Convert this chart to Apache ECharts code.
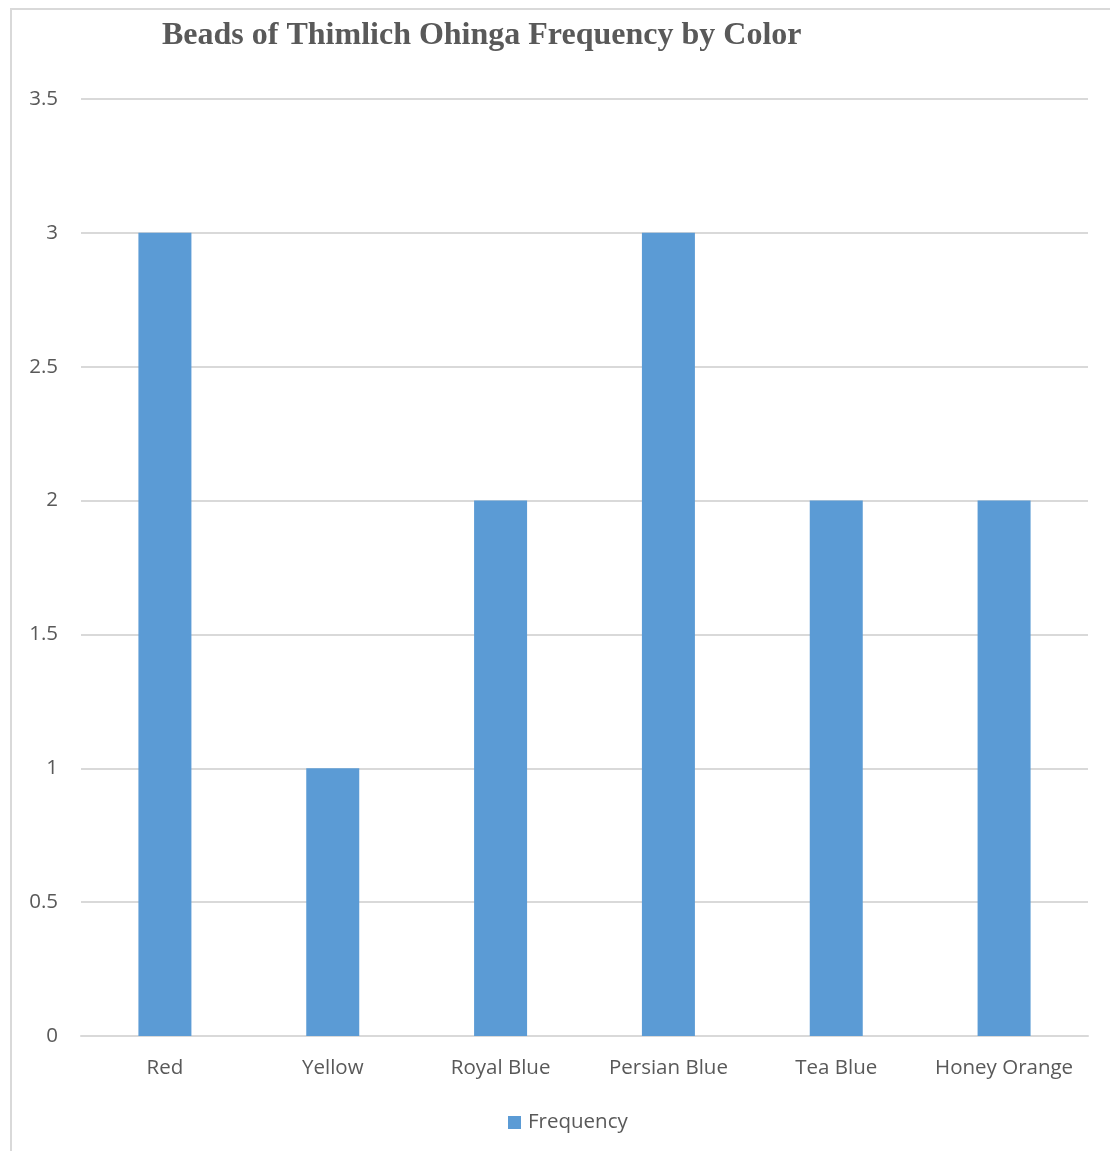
<!DOCTYPE html>
<html>
<head>
<meta charset="utf-8">
<script src="https://cdn.jsdelivr.net/npm/echarts@6/dist/echarts.min.js"></script>
<style>
  html, body { margin: 0; padding: 0; background: #fff; }
  #frame { position: absolute; left: 10px; top: 8px; width: 1200px; height: 1200px; border-left: 2px solid #d9d9d9; border-top: 2px solid #d9d9d9; box-sizing: border-box; }
  #chart { position: absolute; left: 0; top: 0; width: 1110px; height: 1151px; }
</style>
</head>
<body>
<div id="frame"></div>
<div id="chart"></div>
<script>
// Bead colours and how many of each were counted
const categories = ['Red', 'Yellow', 'Royal Blue', 'Persian Blue', 'Tea Blue', 'Honey Orange'];
const frequency = [3, 1, 2, 3, 2, 2];
const seriesName = 'Frequency';
const chartTitle = 'Beads of Thimlich Ohinga Frequency by Color';

const textColor = '#595959';
const gridColor = '#d9d9d9';
const barColor = '#5b9bd5';
const sans = '"Open Sans", "Noto Sans", sans-serif';

const chart = echarts.init(document.getElementById('chart'), null, { renderer: 'canvas' });
chart.setOption({
  backgroundColor: 'transparent',
  animation: false,
  title: {
    text: chartTitle,
    left: 157,
    top: 15,
    textStyle: {
      fontFamily: '"Liberation Serif", "DejaVu Serif", serif',
      fontWeight: 'bold',
      fontSize: 32,
      color: textColor
    }
  },
  legend: {
    data: [seriesName],
    top: 1107,
    left: 503,
    itemWidth: 13,
    itemHeight: 13,
    icon: 'rect',
    textStyle: { fontFamily: sans, fontSize: 20.5, color: textColor, padding: [0, 0, 0, 2] }
  },
  grid: { left: 81, right: 22, top: 99, bottom: 115, containLabel: false },
  xAxis: {
    type: 'category',
    data: categories,
    axisLine: { show: true, lineStyle: { color: gridColor, width: 2 } },
    axisTick: { show: false },
    axisLabel: { interval: 0, fontFamily: sans, fontSize: 20.5, color: textColor, margin: 22 }
  },
  yAxis: {
    type: 'value',
    min: 0,
    max: 3.5,
    interval: 0.5,
    axisLine: { show: false },
    axisTick: { show: false },
    splitLine: { lineStyle: { color: gridColor, width: 2 } },
    axisLabel: { fontFamily: sans, fontSize: 20.5, color: textColor, margin: 23 }
  },
  series: [{
    name: seriesName,
    type: 'bar',
    data: frequency,
    barWidth: 53,
    itemStyle: { color: barColor }
  }]
});
</script>
</body>
</html>
